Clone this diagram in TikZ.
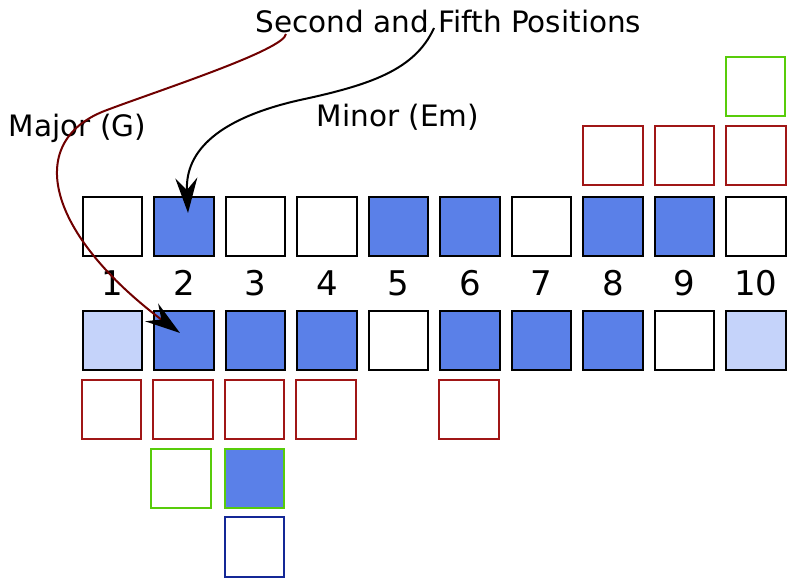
\documentclass[tikz,border=0pt]{standalone}
\usepackage{fontspec}
\setmainfont{DejaVu Sans}
\usetikzlibrary{arrows.meta}
\definecolor{bl}{RGB}{90,128,232}
\definecolor{lb}{RGB}{197,211,250}
\definecolor{rd}{RGB}{160,22,22}
\definecolor{gr}{RGB}{88,204,10}
\definecolor{nv}{RGB}{20,40,150}
\definecolor{cr}{RGB}{112,0,0}
\tikzset{
  box/.style={draw=black, line width=2.3pt, minimum size=59.5pt, inner sep=0pt, outer sep=0pt, fill=white},
  rbox/.style={box, draw=rd},
  gbox/.style={box, draw=gr},
  nbox/.style={box, draw=nv},
  lbl/.style={font=\fontsize{29.5}{32}\selectfont, inner sep=0pt},
  num/.style={font=\fontsize{34}{36}\selectfont, inner sep=0pt, anchor=base},
  arr/.style={line width=2pt, -{Stealth[length=35pt,width=22pt,inset=12pt,color=black]}}
}
\begin{document}
\begin{tikzpicture}[x=1pt,y=-1pt]
\useasboundingbox (0,0) rectangle (796,581);
% top row
\foreach \i/\f in {1/white,2/bl,3/white,4/white,5/bl,6/bl,7/white,8/bl,9/bl,10/white}{
  \node[box, fill=\f] (t\i) at ({112.5+(\i-1)*71.5},226.5) {};
  \node[num] (n\i) at ({112.5+(\i-1)*71.5},295) {\i};
}
% bottom row
\foreach \i/\f in {1/lb,2/bl,3/bl,4/bl,5/white,6/bl,7/bl,8/bl,9/white,10/lb}{
  \node[box, fill=\f] (b\i) at ({112.5+(\i-1)*71.5},340.5) {};
}
% red above
\foreach \i in {8,9,10}{
  \node[rbox] (ra\i) at ({112.5+(\i-1)*71.5},155.5) {};
}
\node[gbox] (ga10) at (755.5,86.5) {};
% red below
\foreach \i in {1,2,3,4,6}{
  \node[rbox] (rb\i) at ({111.5+(\i-1)*71.5},409.5) {};
}
\node[gbox] (gb2) at (181,478.5) {};
\node[gbox, fill=bl] (gb3) at (254.5,478.5) {};
\node[nbox] (nb3) at (254.5,547) {};
% labels
\node[lbl, anchor=base] (sec) at (448.5,32) {Second and Fifth Positions};
\node[lbl, anchor=base] (maj) at (77.5,136) {Major (G)};
\node[lbl, anchor=base] (min) at (398,126) {Minor (Em)};
% arrow anchor points
\coordinate (s1) at (434,28);
\coordinate (s2) at (286,34);
\coordinate (e1) at (188,213);
\coordinate (e2) at (180,333);
\draw[arr, black] (s1) .. controls (415,70) and (370,85) .. (300,100)
  .. controls (220,118) and (185,150) .. (e1);
\draw[arr, cr] (s2) .. controls (284,50) and (160,90) .. (107,110)
  .. controls (25,140) and (45,230) .. (158,317) -- (e2);
\end{tikzpicture}
\end{document}
